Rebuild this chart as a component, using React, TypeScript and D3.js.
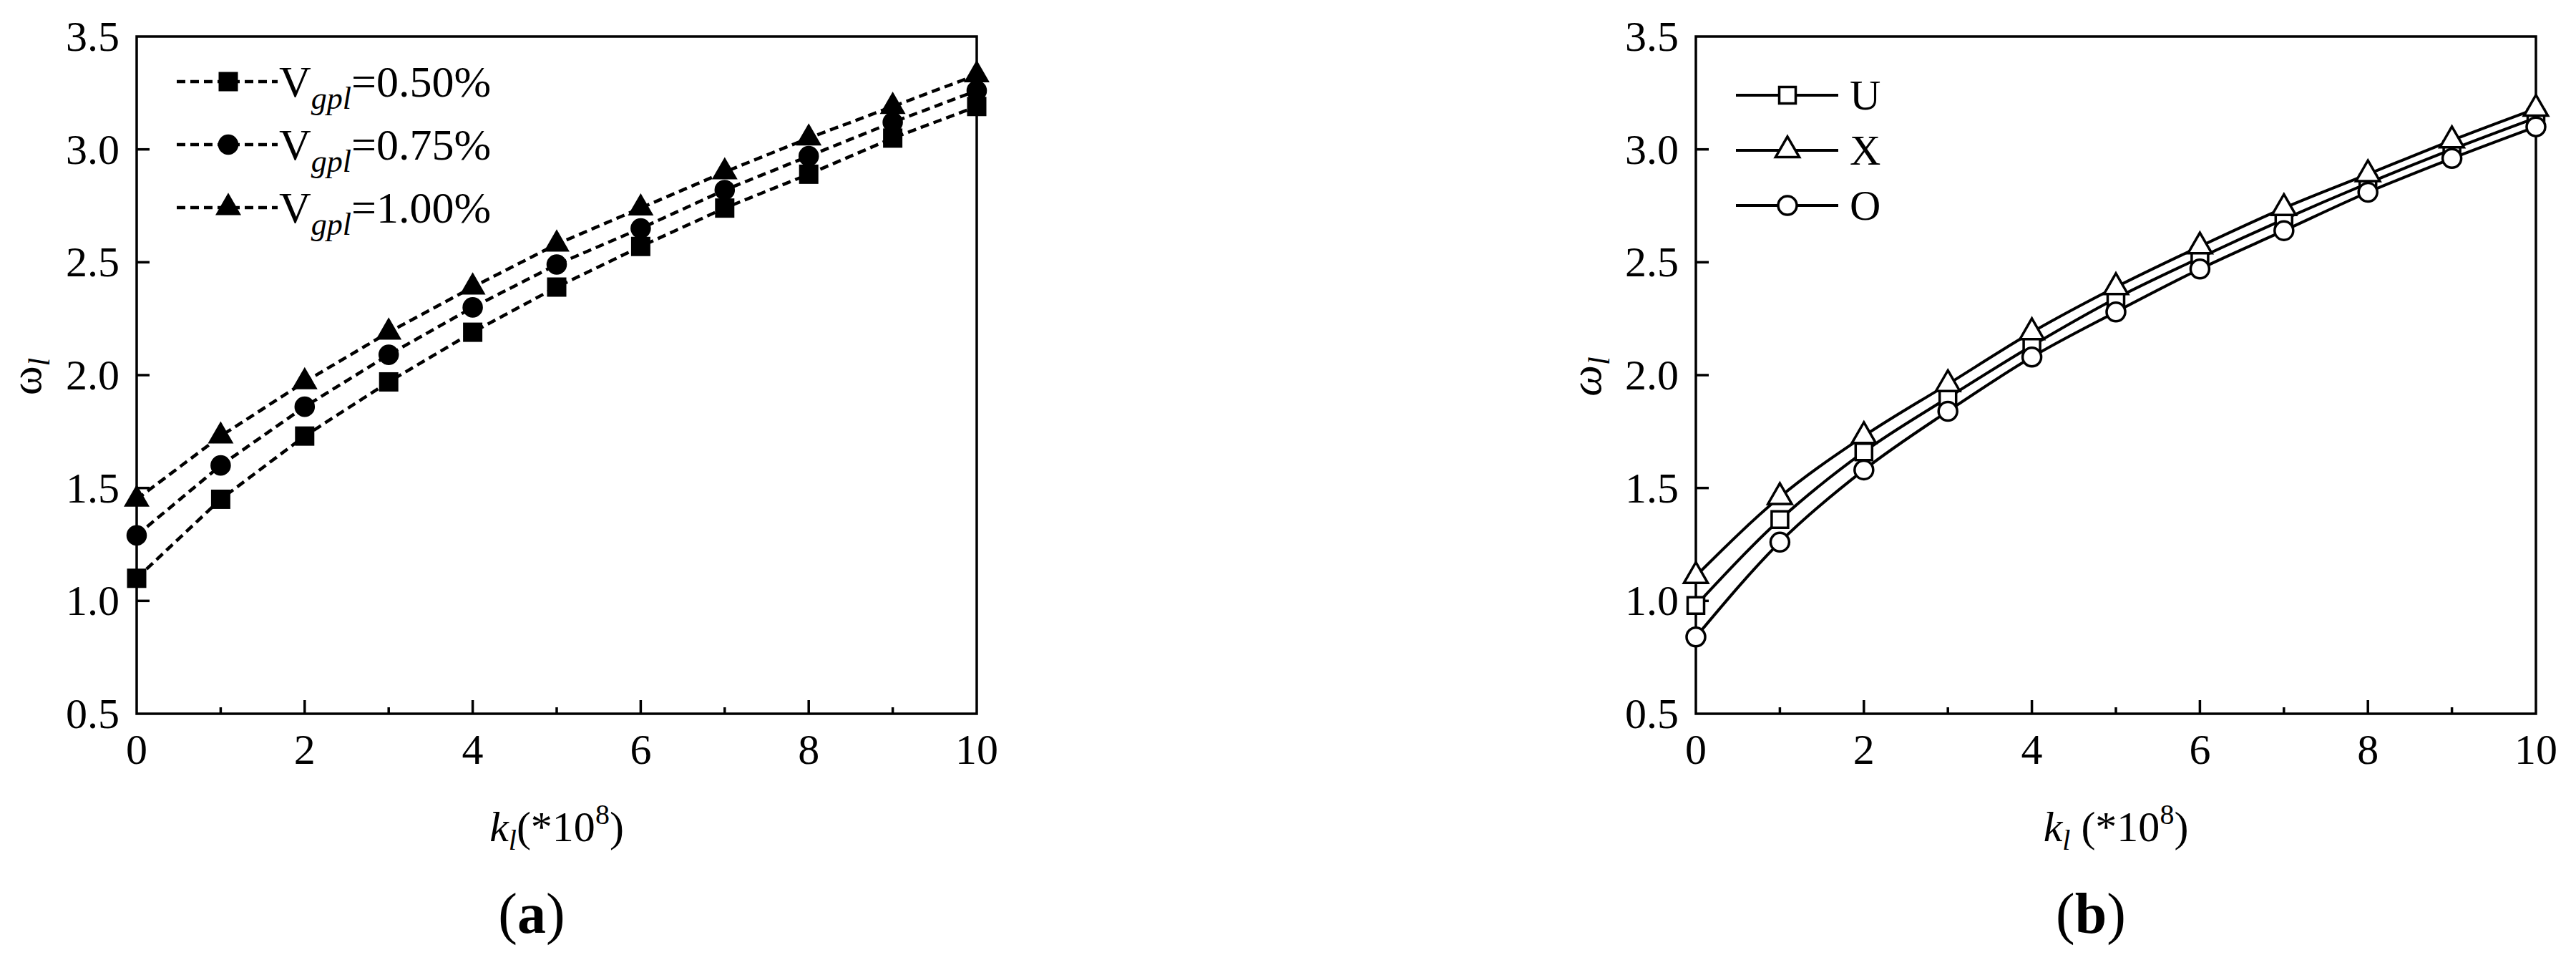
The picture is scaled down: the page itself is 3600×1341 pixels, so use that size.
import React from "react";
import * as d3 from "d3";

// ---------- data ----------
const kValues = [0, 1, 2, 3, 4, 5, 6, 7, 8, 9, 10];
const yTicks = [0.5, 1.0, 1.5, 2.0, 2.5, 3.0, 3.5];
const xMajorTicks = [0, 2, 4, 6, 8, 10];
const xMinorTicks = [1, 3, 5, 7, 9];

const vgpl050 = [1.10, 1.45, 1.73, 1.97, 2.19, 2.39, 2.57, 2.74, 2.89, 3.05, 3.19];
const vgpl075 = [1.29, 1.60, 1.86, 2.09, 2.30, 2.49, 2.65, 2.82, 2.97, 3.12, 3.26];
const vgpl100 = [1.45, 1.73, 1.97, 2.19, 2.39, 2.58, 2.74, 2.90, 3.05, 3.19, 3.33];
const labelsA = ["=0.50%", "=0.75%", "=1.00%"];

const seriesU = [0.98, 1.36, 1.66, 1.90, 2.13, 2.34, 2.52, 2.69, 2.85, 3.00, 3.14];
const seriesX = [1.11, 1.46, 1.73, 1.96, 2.19, 2.39, 2.57, 2.74, 2.89, 3.04, 3.18];
const seriesO = [0.84, 1.26, 1.58, 1.84, 2.08, 2.28, 2.47, 2.64, 2.81, 2.96, 3.10];
const labelsB = ["U", "X", "O"];

const FONT = "'Liberation Serif', 'Times New Roman', serif";

const TOP = 51;
const BOTTOM = 997;
const PLOT_W = 1174;

type SymKind = "square" | "circle" | "triangle";

function symPath(kind: SymKind, size: number) {
  const t = kind === "square" ? d3.symbolSquare : kind === "circle" ? d3.symbolCircle : d3.symbolTriangle;
  return d3.symbol().type(t).size(size)() as string;
}

interface PanelProps {
  left: number;
  series: number[][];
  kinds: SymKind[];
  sizes: number[];
  filled: boolean;
  dashed: boolean;
  curve: any;
  yTitleX: number;
  omegaItalic: boolean;
  titleSpace: boolean;
  panelLabel: string;
  legend: React.ReactNode;
}

function Panel(p: PanelProps) {
  const x = d3.scaleLinear().domain([0, 10]).range([p.left, p.left + PLOT_W]);
  const y = d3.scaleLinear().domain([0.5, 3.5]).range([BOTTOM, TOP]);
  const line = d3
    .line<number>()
    .x((_, i) => x(kValues[i]))
    .y((d) => y(d))
    .curve(p.curve);
  const fmt = d3.format(".1f");
  const right = p.left + PLOT_W;
  const cx = (p.left + right) / 2;
  return (
    <g>
      {/* lines */}
      {p.series.map((s, si) => (
        <path
          key={"l" + si}
          d={line(s) as string}
          fill="none"
          stroke="#000"
          strokeWidth={p.dashed ? 4.5 : 4}
          strokeDasharray={p.dashed ? "12 7" : undefined}
        />
      ))}
      {/* frame */}
      <rect x={p.left} y={TOP} width={PLOT_W} height={BOTTOM - TOP} fill="none" stroke="#000" strokeWidth={3.5} />
      {/* y ticks */}
      {yTicks.map((t) => (
        <g key={"yt" + t}>
          {t > 0.5 && t < 3.5 && (
            <line x1={p.left} x2={p.left + 18} y1={y(t)} y2={y(t)} stroke="#000" strokeWidth={3.5} />
          )}
          <text x={p.left - 24} y={y(t) + 20} textAnchor="end" fontSize={60} fontFamily={FONT}>
            {fmt(t)}
          </text>
        </g>
      ))}
      {/* x ticks */}
      {xMajorTicks.map((t) => (
        <g key={"xt" + t}>
          {t > 0 && t < 10 && (
            <line x1={x(t)} x2={x(t)} y1={BOTTOM} y2={BOTTOM - 19} stroke="#000" strokeWidth={3.5} />
          )}
          <text x={x(t)} y={BOTTOM + 70} textAnchor="middle" fontSize={60} fontFamily={FONT}>
            {t}
          </text>
        </g>
      ))}
      {xMinorTicks.map((t) => (
        <line key={"xm" + t} x1={x(t)} x2={x(t)} y1={BOTTOM} y2={BOTTOM - 9} stroke="#000" strokeWidth={3.5} />
      ))}
      {/* markers */}
      {p.series.map((s, si) =>
        s.map((v, i) => (
          <path
            key={"m" + si + "-" + i}
            d={symPath(p.kinds[si], p.sizes[si])}
            transform={`translate(${x(kValues[i])},${y(v)})`}
            fill={p.filled ? "#000" : "#fff"}
            stroke="#000"
            strokeWidth={p.filled ? 0 : 3.5}
          />
        ))
      )}
      {p.legend}
      {/* y title */}
      <text
        transform={`translate(${p.yTitleX},${(TOP + BOTTOM) / 2 + 2}) rotate(-90)`}
        textAnchor="middle"
        fontSize={62}
        fontFamily={FONT}
      >
        <tspan fontStyle={p.omegaItalic ? "italic" : "normal"}>ω</tspan>
        <tspan fontStyle="italic" fontSize={42} dy={12}>l</tspan>
      </text>
      {/* x title */}
      <text x={cx} y={1175} textAnchor="middle" fontSize={60} fontFamily={FONT}>
        <tspan fontStyle="italic">k</tspan>
        <tspan fontStyle="italic" fontSize={40} dy={12}>l</tspan>
        <tspan dy={-12}>{p.titleSpace ? " (*10" : "(*10"}</tspan>
        <tspan fontSize={40} dy={-24}>8</tspan>
        <tspan dy={24}>)</tspan>
      </text>
      {/* panel label */}
      <text x={cx - 35} y={1303} textAnchor="middle" fontSize={80} fontFamily={FONT}>
        <tspan>(</tspan>
        <tspan fontWeight="bold">{p.panelLabel}</tspan>
        <tspan>)</tspan>
      </text>
    </g>
  );
}

function LegendA() {
  const rows = [114, 202, 290];
  const kinds: SymKind[] = ["square", "circle", "triangle"];
  const sizes = [729, 640, 560];
  return (
    <g>
      {rows.map((ry, i) => (
        <g key={i}>
          <line x1={247} x2={388} y1={ry} y2={ry} stroke="#000" strokeWidth={4.5} strokeDasharray="12 7" />
          <path d={symPath(kinds[i], sizes[i])} transform={`translate(319,${ry})`} fill="#000" />
          <text x={390} y={ry + 21} fontSize={62} fontFamily={FONT}>
            <tspan>V</tspan>
            <tspan fontStyle="italic" fontSize={44} dy={17}>gpl</tspan>
            <tspan dy={-17}>{labelsA[i]}</tspan>
          </text>
        </g>
      ))}
    </g>
  );
}

function LegendB() {
  const rows = [133, 210, 287];
  const kinds: SymKind[] = ["square", "triangle", "circle"];
  const sizes = [529, 480, 531];
  return (
    <g>
      {rows.map((ry, i) => (
        <g key={i}>
          <line x1={2426} x2={2569} y1={ry} y2={ry} stroke="#000" strokeWidth={4} />
          <path
            d={symPath(kinds[i], sizes[i])}
            transform={`translate(2498,${ry})`}
            fill="#fff"
            stroke="#000"
            strokeWidth={3.5}
          />
          <text x={2585} y={ry + 20} fontSize={60} fontFamily={FONT}>
            {labelsB[i]}
          </text>
        </g>
      ))}
    </g>
  );
}

export default function App() {
  return (
    <svg
      width={3600}
      height={1341}
      viewBox="0 0 3600 1341"
      style={{ position: "absolute", left: 0, top: 0, background: "#fff" }}
    >
      <rect x={0} y={0} width={3600} height={1341} fill="#fff" />
      <Panel
        left={191}
        series={[vgpl050, vgpl075, vgpl100]}
        kinds={["square", "circle", "triangle"]}
        sizes={[729, 640, 560]}
        filled={true}
        dashed={true}
        curve={d3.curveLinear}
        yTitleX={57}
        omegaItalic={false}
        titleSpace={false}
        panelLabel="a"
        legend={<LegendA />}
      />
      <Panel
        left={2370}
        series={[seriesU, seriesX, seriesO]}
        kinds={["square", "triangle", "circle"]}
        sizes={[529, 480, 531]}
        filled={false}
        dashed={false}
        curve={d3.curveMonotoneX}
        yTitleX={2237}
        omegaItalic={true}
        titleSpace={true}
        panelLabel="b"
        legend={<LegendB />}
      />
    </svg>
  );
}
